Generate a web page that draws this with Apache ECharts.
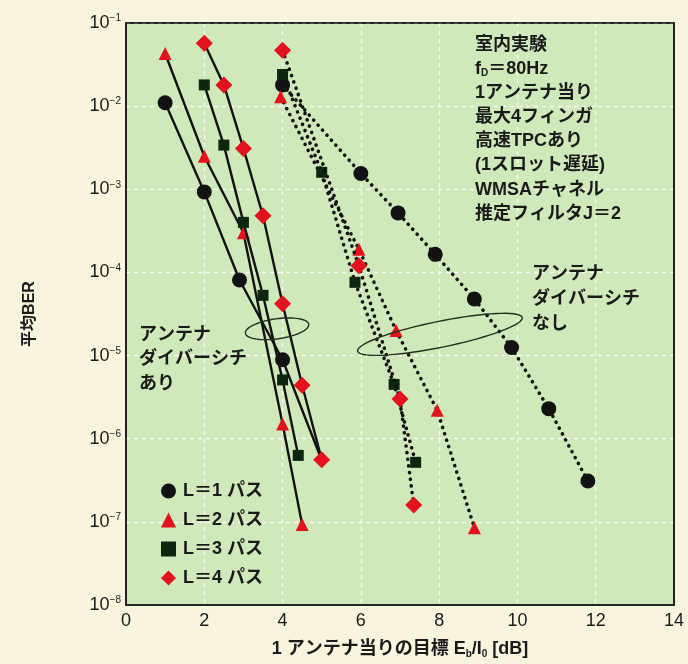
<!DOCTYPE html>
<html>
<head>
<meta charset="utf-8">
<script src="https://cdn.jsdelivr.net/npm/echarts@6/dist/echarts.min.js"></script>
<style>
  html, body { margin: 0; padding: 0; background: #f9f4de; }
  #chart { width: 688px; height: 664px; }
</style>
</head>
<body>
<div id="chart"></div>
<script>
// Axis ranges / ticks
const xTicks = [0, 2, 4, 6, 8, 10, 12, 14];
const yExponents = [-8, -7, -6, -5, -4, -3, -2, -1];

// With antenna diversity (solid lines): [target Eb/I0 per antenna (dB), average BER]
const divL1 = [[1, 1.1e-2], [2, 9.3e-4], [2.9, 8.1e-5], [4, 8.9e-6], [5, 5.5e-7]];
const divL2 = [[1, 4.3e-2], [2, 2.5e-3], [3, 3.0e-4], [4, 1.5e-6], [4.5, 9.3e-8]];
const divL3 = [[2, 1.8e-2], [2.5, 3.4e-3], [3, 4.0e-4], [3.5, 5.3e-5], [4, 5.1e-6], [4.4, 6.3e-7]];
const divL4 = [[2, 5.7e-2], [2.5, 1.8e-2], [3, 3.1e-3], [3.5, 4.8e-4], [4, 4.2e-5], [4.5, 4.4e-6], [5, 5.6e-7]];

// Without antenna diversity (dotted lines)
const noDivL1 = [[4, 1.8e-2], [6, 1.55e-3], [6.95, 5.2e-4], [7.9, 1.65e-4], [8.9, 4.8e-5], [9.85, 1.25e-5], [10.8, 2.3e-6], [11.8, 3.1e-7]];
const noDivL2 = [[3.95, 1.3e-2], [5.95, 1.9e-4], [6.9, 2.0e-5], [7.95, 2.2e-6], [8.9, 8.5e-8]];
const noDivL3 = [[4, 2.4e-2], [5, 1.6e-3], [5.85, 7.6e-5], [6.85, 4.5e-6], [7.4, 5.2e-7]];
const noDivL4 = [[4, 4.7e-2], [5.95, 1.2e-4], [7, 3.0e-6], [7.35, 1.6e-7]];

// Legend names
const pathNames = ['L＝1 パス', 'L＝2 パス', 'L＝3 パス', 'L＝4 パス'];

// Condition notes and group labels
const condLines = ['室内実験', '{t|f}{sub|D}{t|＝80Hz}', '1アンテナ当り', '最大4フィンガ',
                   '高速TPCあり', '(1スロット遅延)', 'WMSAチャネル', '推定フィルタJ＝2'];
const labelNoDiv = ['アンテナ', 'ダイバーシチ', 'なし'];
const labelDiv = ['アンテナ', 'ダイバーシチ', 'あり'];

const FONT = "'Liberation Sans','Noto Sans CJK JP',sans-serif";
const RED = '#e3121c', BLACK = '#121212', SQ = '#0d2610';
const TXT = '#1a1a1a';
const W = 'bold';

const styles = [
  { symbol: 'circle',   size: 15, color: BLACK },
  { symbol: 'triangle', size: 13, color: RED },
  { symbol: 'rect',     size: 11, color: SQ },
  { symbol: 'diamond',  size: 17, color: RED }
];
const divSets = [divL1, divL2, divL3, divL4];
const noDivSets = [noDivL1, noDivL2, noDivL3, noDivL4];

const series = [];
noDivSets.forEach((d, i) => {
  series.push({
    name: pathNames[i], type: 'line', data: d,
    symbol: styles[i].symbol, symbolSize: styles[i].size,
    itemStyle: { color: styles[i].color },
    lineStyle: { color: BLACK, width: 3.6, type: [0.1, 6.6], cap: 'round' },
    z: 2 + i, silent: true
  });
});
divSets.forEach((d, i) => {
  series.push({
    name: pathNames[i], type: 'line', data: d,
    symbol: styles[i].symbol,
    // the L=1 curve ends beneath the L=4 marker at 5 dB
    symbolSize: i === 0 ? (v, p) => (p.dataIndex === d.length - 1 ? 0 : styles[i].size) : styles[i].size,
    itemStyle: { color: styles[i].color },
    lineStyle: { color: BLACK, width: 2.4 },
    z: 10 + i, silent: true
  });
});

const chart = echarts.init(document.getElementById('chart'));

const sup = { fontSize: 10, color: TXT, fontFamily: FONT, padding: [0, 0, 9, 0] };
const sub = { fontSize: 10, color: TXT, fontFamily: FONT, fontWeight: W, padding: [9, 0, 0, 0] };
const gridLine = { show: true, showMinLine: false, showMaxLine: false,
  lineStyle: { color: '#ffffff', type: [4, 4], width: 1.3, opacity: 0.85 } };

chart.setOption({
  animation: false,
  backgroundColor: '#f9f4de',
  textStyle: { fontFamily: FONT },
  grid: {
    left: 126, right: 14, top: 23, bottom: 57,
    show: true, backgroundColor: '#d0e9ba', borderColor: '#1a1a1a', borderWidth: 1.6
  },
  legend: {
    left: 156, top: 477, orient: 'vertical',
    itemWidth: 15, itemHeight: 15, itemGap: 11,
    data: pathNames.map((n, i) => ({ name: n, icon: styles[i].symbol })),
    textStyle: { fontSize: 18, color: TXT, fontFamily: FONT, fontWeight: W, padding: [0, 0, 0, 2] },
    selectedMode: false
  },
  xAxis: {
    type: 'value', min: xTicks[0], max: xTicks[xTicks.length - 1], interval: xTicks[1] - xTicks[0],
    name: '1 アンテナ当りの目標 E{sub|b}/I{sub|0} [dB]',
    nameLocation: 'middle', nameGap: 35,
    nameTextStyle: { fontSize: 18, color: TXT, fontFamily: FONT, fontWeight: W, rich: { sub: sub } },
    axisLine: { show: false }, axisTick: { show: false },
    axisLabel: { fontSize: 18, color: TXT, margin: 7, fontFamily: FONT },
    splitLine: gridLine
  },
  yAxis: {
    type: 'log', logBase: 10,
    min: Math.pow(10, yExponents[0]), max: Math.pow(10, yExponents[yExponents.length - 1]),
    interval: 1,
    name: '平均BER', nameLocation: 'middle', nameGap: 88, nameRotate: 90,
    nameTextStyle: { fontSize: 16, color: TXT, fontFamily: FONT, fontWeight: W },
    axisLine: { show: false }, axisTick: { show: false },
    axisLabel: {
      margin: 5,
      formatter: v => '{b|10}{s|−' + (-Math.round(Math.log10(v))) + '}',
      rich: { b: { fontSize: 18, color: TXT, fontFamily: FONT }, s: sup }
    },
    splitLine: gridLine
  },
  series: series
});

// Text annotations
const textEls = [];
const txtStyle = { fontSize: 18, fill: TXT, fontFamily: FONT, fontWeight: W };
condLines.forEach((s, i) => {
  textEls.push({
    type: 'text', left: 475, top: 36 + i * 24.1, silent: true,
    style: Object.assign({ text: s, rich: {
      t: { fontSize: 18, fontFamily: FONT, fontWeight: W, fill: TXT },
      sub: { fontSize: 10, fontFamily: FONT, fontWeight: W, fill: TXT, padding: [9, 0, 0, 0] }
    } }, txtStyle)
  });
});
labelNoDiv.forEach((s, i) => {
  textEls.push({ type: 'text', left: 532, top: 265 + i * 25, silent: true,
    style: Object.assign({ text: s }, txtStyle) });
});
labelDiv.forEach((s, i) => {
  textEls.push({ type: 'text', left: 139, top: 326 + i * 24.5, silent: true,
    style: Object.assign({ text: s }, txtStyle) });
});

// Solid frame redrawn above the dashed grid lines
const tl = chart.convertToPixel({ gridIndex: 0 }, [xTicks[0], Math.pow(10, yExponents[yExponents.length - 1])]);
const br = chart.convertToPixel({ gridIndex: 0 }, [xTicks[xTicks.length - 1], Math.pow(10, yExponents[0])]);
textEls.push({ type: 'rect', silent: true, z: 40,
  shape: { x: tl[0], y: tl[1], width: br[0] - tl[0], height: br[1] - tl[1] },
  style: { fill: 'none', stroke: '#1a1a1a', lineWidth: 1.6 } });

// Ellipses grouping the two families of curves (centres given in data coordinates)
function ellipse(center, rx, ry, rotDeg) {
  const c = chart.convertToPixel({ gridIndex: 0 }, center);
  const a = rotDeg * Math.PI / 180;
  const pts = [];
  for (let k = 0; k < 72; k++) {
    const t = (k / 72) * 2 * Math.PI;
    const ex = rx * Math.cos(t), ey = ry * Math.sin(t);
    pts.push([c[0] + ex * Math.cos(a) - ey * Math.sin(a), c[1] + ex * Math.sin(a) + ey * Math.cos(a)]);
  }
  return { type: 'polygon', silent: true, z: 30,
    shape: { points: pts },
    style: { fill: 'none', stroke: '#22301f', lineWidth: 1.4 } };
}
textEls.push(ellipse([3.86, 2.1e-5], 32, 10, -8));
textEls.push(ellipse([8.02, 1.8e-5], 84, 13, -11.5));

chart.setOption({ graphic: textEls });
</script>
</body>
</html>
